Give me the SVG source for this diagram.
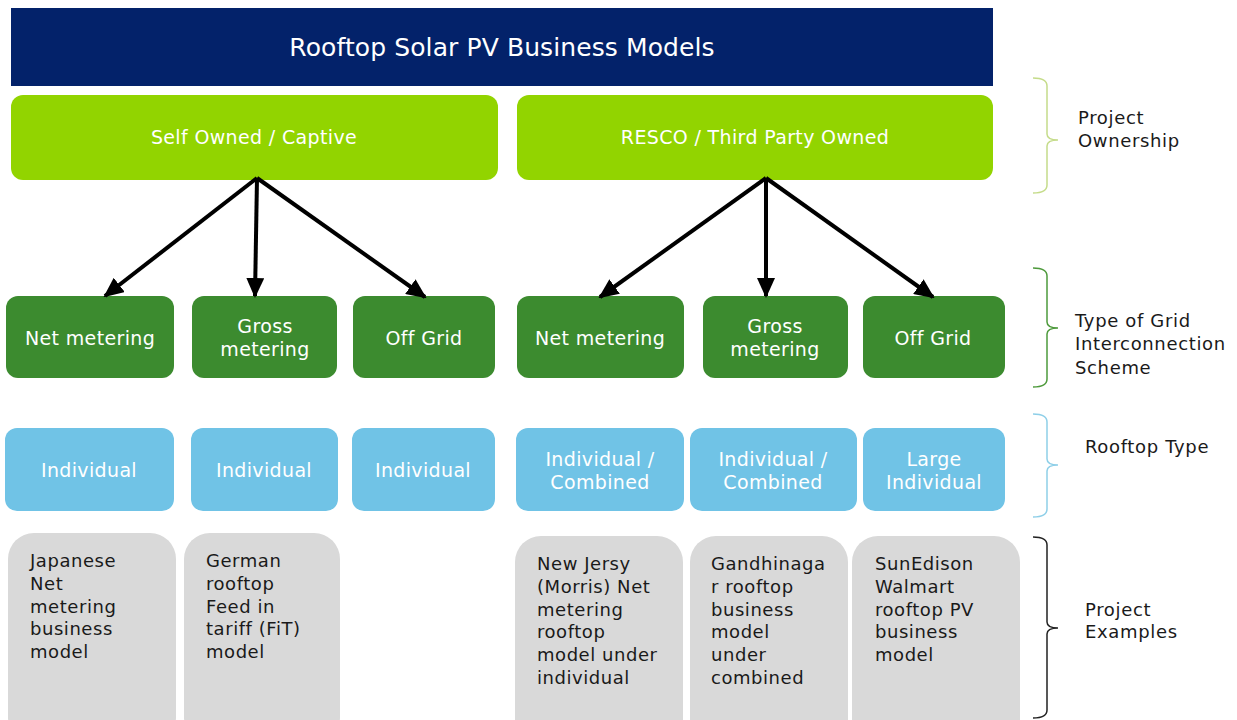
<svg xmlns="http://www.w3.org/2000/svg" width="1237" height="720" viewBox="0 0 1237 720">
<style>
text{font-family:"DejaVu Sans","Verdana",sans-serif}
.t{fill:#fff;font-size:25px;letter-spacing:0.1px;text-anchor:middle;dominant-baseline:central}
.w{fill:#fff;font-size:19px;letter-spacing:0.35px;text-anchor:middle;dominant-baseline:central}
.g{fill:#1a1a1a;font-size:18px;letter-spacing:0.55px;dominant-baseline:central}
.l{fill:#1a1a1a;font-size:18px;letter-spacing:0.65px;dominant-baseline:central}
.own{fill:#92D400}
.grid{fill:#3C8B2F}
.roof{fill:#70C3E6}
.ex{fill:#D9D9D9}
.arr{stroke:#000;stroke-width:4;fill:none;marker-end:url(#ah)}
.br{fill:none;stroke-width:1.5}
</style>
<defs>
<marker id="ah" markerUnits="userSpaceOnUse" markerWidth="20" markerHeight="18" refX="18" refY="9" orient="auto">
<path d="M0,0 L20,9 L0,18 z" fill="#000"/>
</marker>
</defs>
<rect width="1237" height="720" fill="#fff"/>
<g id="title">
<rect x="11" y="8" width="982" height="78" fill="#03226A"/>
<text class="t" x="502" y="47">Rooftop Solar PV Business Models</text>
</g>
<g id="self-owned">
<rect class="own" x="11" y="95" width="487" height="85" rx="12"/>
<text class="w" x="254" y="137">Self Owned / Captive</text>
</g>
<g id="resco">
<rect class="own" x="517" y="95" width="476" height="85" rx="12"/>
<text class="w" x="755" y="137">RESCO / Third Party Owned</text>
</g>
<g id="net1">
<rect class="grid" x="6" y="296" width="168" height="82" rx="12"/>
<text class="w" x="90" y="338">Net metering</text>
</g>
<g id="gross1">
<rect class="grid" x="192" y="296" width="145" height="82" rx="12"/>
<text class="w" x="265" y="326">Gross</text>
<text class="w" x="265" y="349">metering</text>
</g>
<g id="off1">
<rect class="grid" x="353" y="296" width="142" height="82" rx="12"/>
<text class="w" x="424" y="338">Off Grid</text>
</g>
<g id="net2">
<rect class="grid" x="517" y="296" width="167" height="82" rx="12"/>
<text class="w" x="600" y="338">Net metering</text>
</g>
<g id="gross2">
<rect class="grid" x="703" y="296" width="145" height="82" rx="12"/>
<text class="w" x="775" y="326">Gross</text>
<text class="w" x="775" y="349">metering</text>
</g>
<g id="off2">
<rect class="grid" x="863" y="296" width="142" height="82" rx="12"/>
<text class="w" x="933" y="338">Off Grid</text>
</g>
<g id="roof1">
<rect class="roof" x="5" y="428" width="169" height="83" rx="12"/>
<text class="w" x="89" y="470">Individual</text>
</g>
<g id="roof2">
<rect class="roof" x="191" y="428" width="147" height="83" rx="12"/>
<text class="w" x="264" y="470">Individual</text>
</g>
<g id="roof3">
<rect class="roof" x="352" y="428" width="143" height="83" rx="12"/>
<text class="w" x="423" y="470">Individual</text>
</g>
<g id="roof4">
<rect class="roof" x="516" y="428" width="168" height="83" rx="12"/>
<text class="w" x="600" y="459">Individual /</text>
<text class="w" x="600" y="482">Combined</text>
</g>
<g id="roof5">
<rect class="roof" x="690" y="428" width="167" height="83" rx="12"/>
<text class="w" x="773" y="459">Individual /</text>
<text class="w" x="773" y="482">Combined</text>
</g>
<g id="roof6">
<rect class="roof" x="863" y="428" width="142" height="83" rx="12"/>
<text class="w" x="934" y="459">Large</text>
<text class="w" x="934" y="482">Individual</text>
</g>
<g id="ex1">
<rect class="ex" x="8" y="533" width="168" height="210" rx="26"/>
<text class="g" x="30" y="560">Japanese</text>
<text class="g" x="30" y="583">Net</text>
<text class="g" x="30" y="606">metering</text>
<text class="g" x="30" y="628">business</text>
<text class="g" x="30" y="651">model</text>
</g>
<g id="ex2">
<rect class="ex" x="184" y="533" width="156" height="210" rx="26"/>
<text class="g" x="206" y="560">German</text>
<text class="g" x="206" y="583">rooftop</text>
<text class="g" x="206" y="606">Feed in</text>
<text class="g" x="206" y="628">tariff (FiT)</text>
<text class="g" x="206" y="651">model</text>
</g>
<g id="ex3">
<rect class="ex" x="515" y="536" width="168" height="210" rx="26"/>
<text class="g" x="537" y="563">New Jersy</text>
<text class="g" x="537" y="586">(Morris) Net</text>
<text class="g" x="537" y="609">metering</text>
<text class="g" x="537" y="631">rooftop</text>
<text class="g" x="537" y="654">model under</text>
<text class="g" x="537" y="677">individual</text>
</g>
<g id="ex4">
<rect class="ex" x="690" y="536" width="158" height="210" rx="26"/>
<text class="g" x="711" y="563">Gandhinaga</text>
<text class="g" x="711" y="586">r rooftop</text>
<text class="g" x="711" y="609">business</text>
<text class="g" x="711" y="631">model</text>
<text class="g" x="711" y="654">under</text>
<text class="g" x="711" y="677">combined</text>
</g>
<g id="ex5">
<rect class="ex" x="852" y="536" width="168" height="210" rx="26"/>
<text class="g" x="875" y="563">SunEdison</text>
<text class="g" x="875" y="586">Walmart</text>
<text class="g" x="875" y="609">rooftop PV</text>
<text class="g" x="875" y="631">business</text>
<text class="g" x="875" y="654">model</text>
</g>
<g id="connectors">
<line class="arr" x1="257" y1="178" x2="105" y2="296"/>
<line class="arr" x1="257" y1="178" x2="255" y2="296"/>
<line class="arr" x1="257" y1="178" x2="425" y2="297"/>
<line class="arr" x1="766" y1="178" x2="600" y2="297"/>
<line class="arr" x1="766" y1="178" x2="766" y2="296"/>
<line class="arr" x1="766" y1="178" x2="933" y2="297"/>
</g>
<g id="brace-ownership">
<path class="br" stroke="#C5DC8A" d="M1033,78 Q1047,78 1047,86 L1047,134 Q1047,140 1058,140 Q1047,140 1047,146 L1047,185 Q1047,193 1033,193"/>
<text class="l" x="1078" y="117">Project</text>
<text class="l" x="1078" y="140">Ownership</text>
</g>
<g id="brace-grid">
<path class="br" stroke="#4E9A3C" d="M1033,268 Q1047,268 1047,276 L1047,322 Q1047,328 1058,328 Q1047,328 1047,334 L1047,379 Q1047,387 1033,387"/>
<text class="l" x="1075" y="320">Type of Grid</text>
<text class="l" x="1075" y="343">Interconnection</text>
<text class="l" x="1075" y="367">Scheme</text>
</g>
<g id="brace-rooftop">
<path class="br" stroke="#8ECFE8" d="M1033,414 Q1047,414 1047,422 L1047,459 Q1047,465 1058,465 Q1047,465 1047,471 L1047,509 Q1047,517 1033,517"/>
<text class="l" x="1085" y="446">Rooftop Type</text>
</g>
<g id="brace-examples">
<path class="br" stroke="#222" d="M1033,537 Q1047,537 1047,545 L1047,622 Q1047,628 1058,628 Q1047,628 1047,634 L1047,710 Q1047,718 1033,718"/>
<text class="l" x="1085" y="609">Project</text>
<text class="l" x="1085" y="631">Examples</text>
</g>
</svg>
